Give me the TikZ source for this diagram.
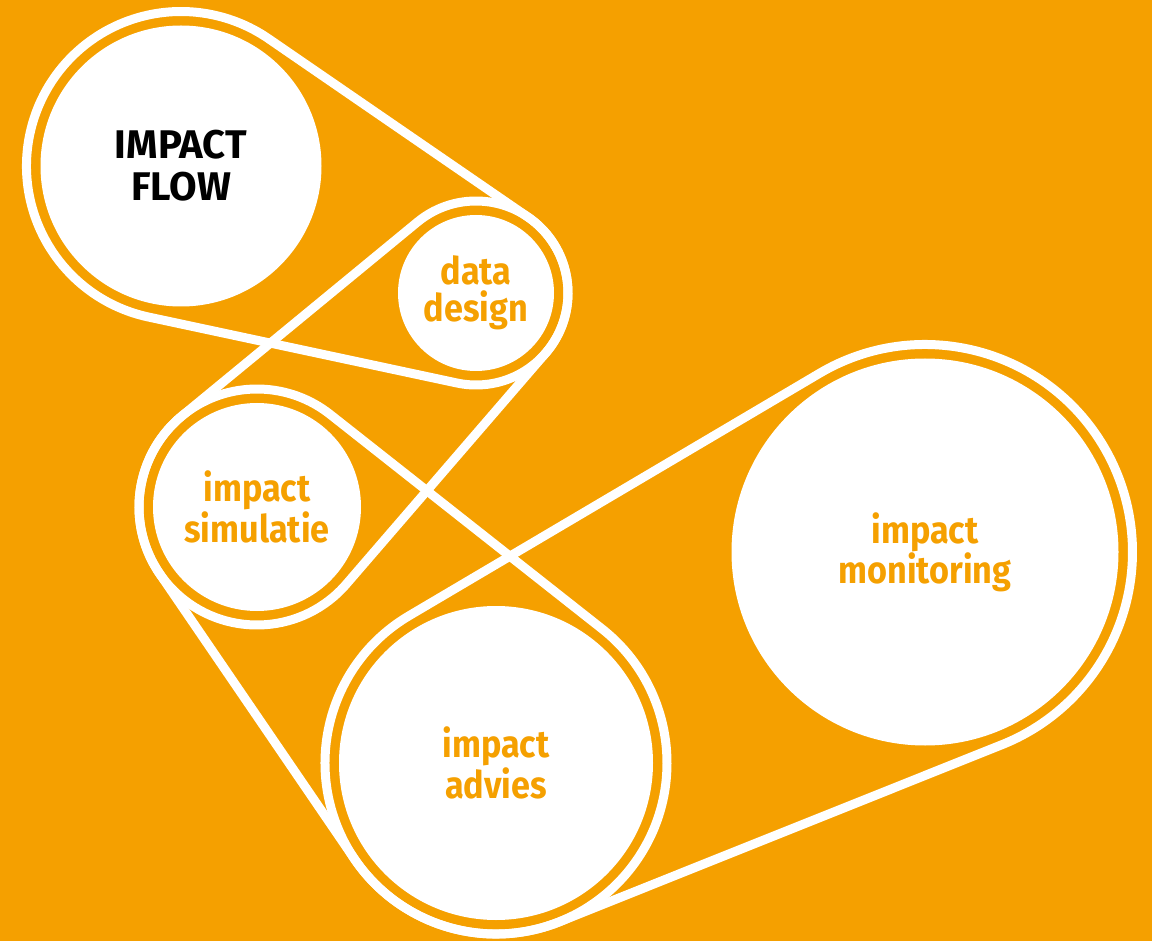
\documentclass[tikz,border=0pt]{standalone}
\usepackage{fontspec}
\setmainfont{Fira Sans}[FakeStretch=0.9]
\newfontfamily\flowfont{Fira Sans}
\usepackage{tikz}
\usetikzlibrary{calc}

\definecolor{flowbg}{HTML}{F5A000}

% gap between a disc and the belt that runs round it
\newcommand{\beltgap}{14}

% belt round two discs: the outer tangents and the two outer arcs
\newcommand{\belt}[2]{%
    \pgfpointanchor{#1}{center}\pgfgetlastxy{\pax}{\pay}%
    \pgfpointanchor{#1}{east}\pgfgetlastxy{\pae}{\pdummy}%
    \pgfpointanchor{#2}{center}\pgfgetlastxy{\pbx}{\pby}%
    \pgfpointanchor{#2}{east}\pgfgetlastxy{\pbe}{\pdummy}%
    \pgfmathsetmacro{\ra}{\pae-\pax+\beltgap}%
    \pgfmathsetmacro{\rb}{\pbe-\pbx+\beltgap}%
    \pgfmathsetmacro{\bdir}{atan2(\pby-\pay,\pbx-\pax)}%
    \pgfmathsetmacro{\bdist}{veclen(\pbx-\pax,\pby-\pay)}%
    \pgfmathsetmacro{\bopen}{acos((\ra-\rb)/\bdist)}%
    \pgfmathsetmacro{\bup}{\bdir+\bopen}%
    \pgfmathsetmacro{\bdown}{\bdir-\bopen}%
    \pgfmathsetmacro{\bback}{\bdir+\bopen-360}%
    \draw[belt] ($(#1.center)+(\bup:\ra)$) -- ($(#2.center)+(\bup:\rb)$)
        arc[start angle=\bup, end angle=\bdown, radius=\rb]
        -- ($(#1.center)+(\bdown:\ra)$)
        arc[start angle=\bdown, end angle=\bback, radius=\ra] -- cycle;
}

\begin{document}
\begin{tikzpicture}[x=1pt, y=1pt]
        \tikzstyle{disc}=[circle,fill=white,inner sep=0pt,outer sep=0pt,align=center,text=flowbg,font=\bfseries\fontsize{38}{37}\selectfont]
        \tikzstyle{belt}=[draw=white,line width=9pt,line join=round]

        % Background
        \fill[flowbg] (0,0) rectangle (1152,-941);
        \useasboundingbox (0,0) rectangle (1152,-941);

        % Draw the discs
        \node[disc, minimum size=281pt, text=black, font=\flowfont\bfseries\fontsize{40}{42}\selectfont] (flow) at (181,-166) {IMPACT\\FLOW};
        \node[disc, minimum size=156pt] (data) at (476,-293) {data\\design};
        \node[disc, minimum size=208pt] (sim) at (257,-507) {impact\\simulatie};
        \node[disc, minimum size=314pt] (advice) at (496,-763) {impact\\advies};
        \node[disc, minimum size=387pt] (monitor) at (925,-552) {impact\\monitoring};

        % Run a belt round every pair of discs
        \foreach \from/\to in {flow/data, data/sim, sim/advice, advice/monitor}
            \belt{\from}{\to};
\end{tikzpicture}
\end{document}
